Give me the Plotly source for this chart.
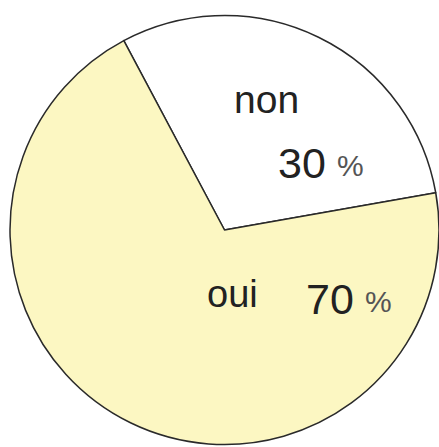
import plotly.graph_objects as go

labels = ["non", "oui"]
values = [30, 70]
colors = ["#FFFFFF", "#FCF7C2"]

W, H = 439, 447

fig = go.Figure()
fig.add_trace(go.Pie(
    labels=labels,
    values=values,
    sort=False,
    direction="clockwise",
    rotation=-28,
    marker=dict(colors=colors, line=dict(color="#2a2a2a", width=1.5)),
    textinfo="none",
    hoverinfo="label+percent",
    showlegend=False,
    domain=dict(x=[10 / W, 1], y=[2 / H, 432 / H]),
))

txt_font = "Liberation Sans, Arial, sans-serif"


def ann(x_left, y_mid, text, size, color="#222222"):
    fig.add_annotation(x=x_left / W, y=1 - y_mid / H, xref="paper", yref="paper",
                       text=text, showarrow=False,
                       font=dict(size=size, family=txt_font, color=color),
                       xanchor="left", yanchor="middle", borderpad=0)


ann(233, 99, labels[0], 39)
ann(277, 163, f"{values[0]}", 43)
ann(336, 165, "%", 30, "#555555")
ann(206, 294, labels[1], 38)
ann(305, 299, f"{values[1]}", 43)
ann(364, 301, "%", 30, "#555555")

fig.update_layout(
    width=W, height=H,
    margin=dict(l=0, r=0, t=0, b=0),
    paper_bgcolor="white",
    plot_bgcolor="white",
)

fig.write_html("out.html", config={"displayModeBar": False},
               post_script="document.body.style.margin='0px';")
